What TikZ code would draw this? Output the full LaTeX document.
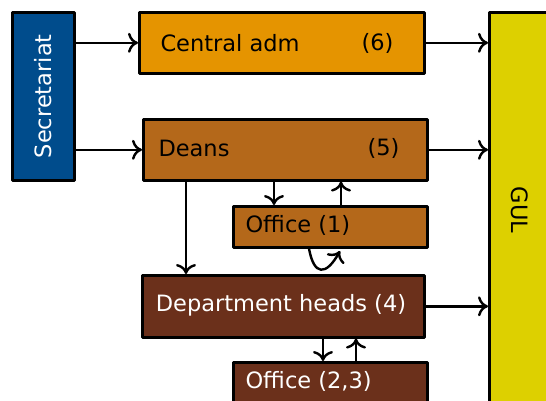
\documentclass[tikz,border=0pt]{standalone}
\usepackage{fontspec}
\setmainfont{DejaVu Sans}
\definecolor{secblue}{RGB}{0,76,140}
\definecolor{centralorange}{RGB}{229,148,0}
\definecolor{deansbrown}{RGB}{180,104,26}
\definecolor{deptbrown}{RGB}{107,48,27}
\definecolor{gulyellow}{RGB}{221,208,0}
\usetikzlibrary{arrows.meta}
\tikzset{
  unit/.style={draw=black, line width=2.6pt, inner sep=0pt, anchor=north west},
  label/.style={font=\fontsize{22.5}{26}\selectfont},
  link/.style={->, line width=2.4pt, >={To[length=10pt, width=20pt, line width=2.4pt]}},
}
\begin{document}
\begin{tikzpicture}[x=1pt, y=-1pt, line cap=round, line join=round]
  \useasboundingbox (0,0) rectangle (546,401);

  % Left and right columns
  \node[unit, fill=secblue, minimum width=62pt, minimum height=168pt] (secr) at (11,11) {};
  \node[label, rotate=90, text=white] at (secr.center) {Secretariat};
  \node[unit, fill=gulyellow, minimum width=70pt, minimum height=400pt] (gul) at (488,11) {};
  \node[label, rotate=-90] at (520,210) {GUL};

  % Boxes in the middle
  \node[unit, fill=centralorange, minimum width=285pt, minimum height=61pt] (central) at (138,11) {};
  \node[label, anchor=west] at (157,43) {Central adm};
  \node[label, anchor=west] at (358,43) {(6)};

  \node[unit, fill=deansbrown, minimum width=284pt, minimum height=61pt] (deans) at (142,118) {};
  \node[label, anchor=west] at (155,148) {Deans};
  \node[label, anchor=west] at (364,148) {(5)};

  \node[unit, fill=deansbrown, minimum width=194pt, minimum height=41pt] (office1) at (232,205) {};
  \node[label, anchor=west] at (242,225) {Office (1)};

  \node[unit, fill=deptbrown, minimum width=282pt, minimum height=62pt] (dept) at (141,274) {};
  \node[label, text=white] at (281,305) {Department heads (4)};

  \node[unit, fill=deptbrown, minimum width=194pt, minimum height=60pt] (office23) at (232,361) {};
  \node[label, text=white, anchor=west] at (242,381) {Office (2,3)};

  % Arrows from the secretariat
  \draw[link] (secr.east |- central.west) -- (central.west);
  \draw[link] (secr.east |- deans.west) -- (deans.west);

  % Arrows to GUL
  \draw[link] (central.east) -- (gul.west |- central.east);
  \draw[link] (deans.east) -- (gul.west |- deans.east);
  \draw[link] (dept.east) -- (gul.west |- dept.east);

  % Deans and their office
  \draw[link] (deans.south -| 186,0) -- (dept.north -| 186,0);
  \draw[link] (deans.south -| 274,0) -- (office1.north -| 274,0);
  \draw[link] (office1.north -| 341,0) -- (deans.south -| 341,0);
  \coordinate (loopend) at (340,251);
  \draw[link] (office1.south -| 309,0) .. controls (314,276) and (326,276) .. (loopend);

  % Department heads and their office
  \draw[link] (dept.south -| 323,0) -- (office23.north -| 323,0);
  \draw[link] (office23.north -| 356,0) -- (dept.south -| 356,0);
\end{tikzpicture}
\end{document}
